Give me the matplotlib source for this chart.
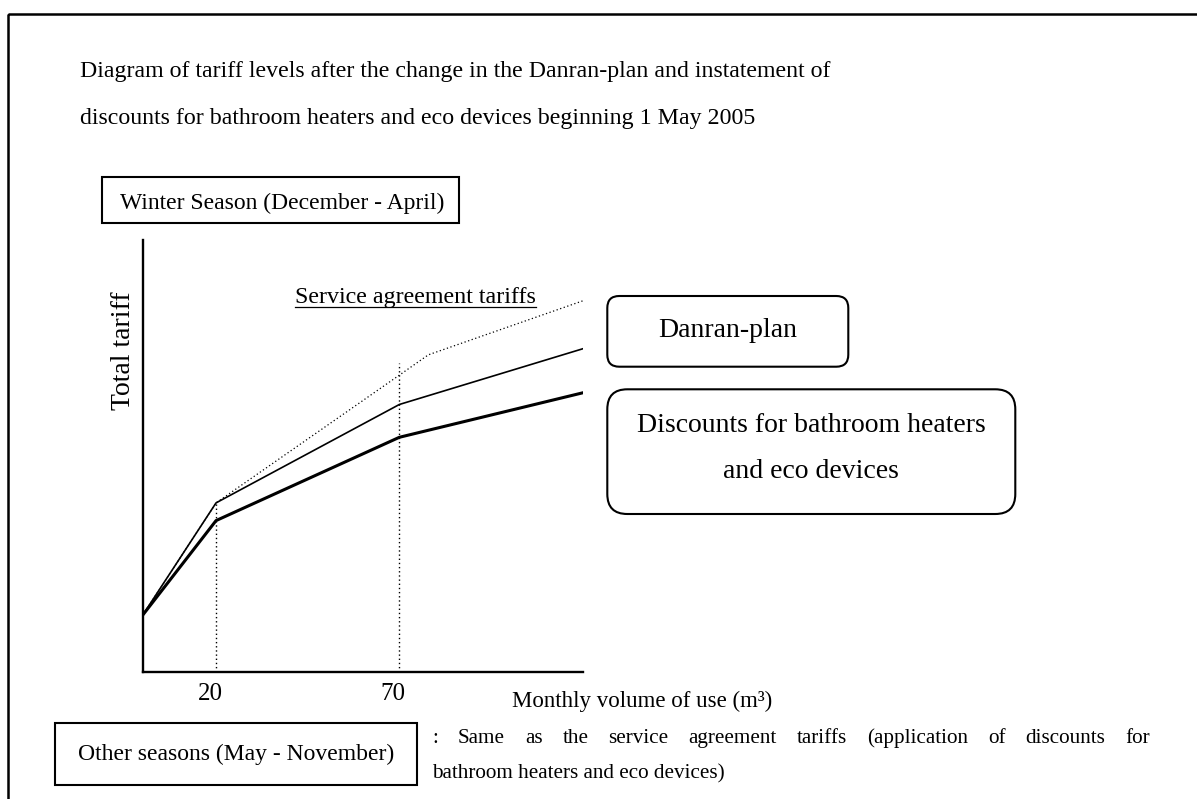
import matplotlib
matplotlib.use("Agg")
import matplotlib.pyplot as plt
from matplotlib.patches import FancyBboxPatch, Rectangle
from matplotlib.transforms import ScaledTranslation

# データ（図から読み取った概算値、縦軸は 0-100 の相対値）
volume = [0, 20, 70, 120]
danran = [13.1, 39.1, 61.9, 74.8]
discount = [13.1, 35.0, 54.3, 64.6]
service_x = [0, 20, 70, 77.9, 120]
service_y = [13.1, 39.1, 68.7, 73.4, 85.9]
guide_x = [20, 70]
guide_top = [39.1, 71.6]
tick_labels = ["20", "70"]

title_lines = [
    "Diagram of tariff levels after the change in the Danran-plan and instatement of",
    "discounts for bathroom heaters and eco devices beginning 1 May 2005",
]
note_line1 = ": Same as the service agreement tariffs (application of discounts for"
note_line2 = "bathroom heaters and eco devices)"

W, H = 1197, 799
plt.rcParams["font.family"] = ["Liberation Serif", "DejaVu Serif"]

fig = plt.figure(figsize=(W / 100, H / 100), dpi=100)
fig.patch.set_facecolor("white")

# ピクセル座標で描くための背景レイヤー
overlay = fig.add_axes([0, 0, 1, 1])
overlay.set_xlim(0, W)
overlay.set_ylim(H, 0)
overlay.axis("off")

# 外枠（右と下は画像外まで続く）
overlay.add_patch(Rectangle((8, 14), 1400, 1000, fill=False, lw=1.8, ec="black"))

# タイトル
overlay.text(80, 77, title_lines[0], fontsize=17.2, va="baseline")
overlay.text(80, 124, title_lines[1], fontsize=17.2, va="baseline")

# 冬季ボックス
overlay.add_patch(Rectangle((101.7, 177.3), 357, 46, fill=False, lw=1.5, ec="black"))
overlay.text(120, 209.3, "Winter Season (December - April)", fontsize=17, va="baseline")

# チャート本体
ax = fig.add_axes([142.7 / W, 1 - 671.7 / H, 440 / W, 431.7 / H])
ax.patch.set_alpha(0)
ax.set_xlim(0, 120)
ax.set_ylim(0, 100)
for side in ["top", "right"]:
    ax.spines[side].set_visible(False)
for side in ["left", "bottom"]:
    ax.spines[side].set_linewidth(1.7)
ax.set_yticks([])
ax.set_xticks(guide_x)
ax.set_xticklabels(tick_labels, fontsize=18)
ax.tick_params(axis="x", length=0, pad=8)
for label in ax.get_xticklabels():
    label.set_transform(label.get_transform() + ScaledTranslation(-0.06, 0, fig.dpi_scale_trans))

dot = (0, (1, 2))
for gx, gt in zip(guide_x, guide_top):
    ax.plot([gx, gx], [0, gt], color="black", lw=1.0, linestyle=dot)
ax.plot(service_x, service_y, color="black", lw=0.9, linestyle=dot)
ax.plot(volume, danran, color="black", lw=1.2, solid_joinstyle="miter")
ax.plot(volume, discount, color="black", lw=2.2, solid_joinstyle="miter")

# 軸ラベル
overlay.text(124, 351, "Total tariff", fontsize=20, rotation=90, ha="center", va="center")
overlay.text(511.7, 706.7, "Monthly volume of use (m³)", fontsize=16.5, va="baseline")

# 下線付きラベル
svc = overlay.text(295, 303.3, "Service agreement tariffs", fontsize=17.3, va="baseline")

# 凡例ボックス
overlay.add_patch(FancyBboxPatch((607.3, 296), 241, 70.7,
                                 boxstyle="round,pad=0,rounding_size=12",
                                 fill=False, lw=1.5, ec="black"))
overlay.text(727.8, 336.7, "Danran-plan", fontsize=20, ha="center", va="baseline")
overlay.add_patch(FancyBboxPatch((607.3, 389.3), 408, 124.7,
                                 boxstyle="round,pad=0,rounding_size=20",
                                 fill=False, lw=1.5, ec="black"))
overlay.text(811, 431.7, "Discounts for bathroom heaters", fontsize=20, ha="center", va="baseline")
overlay.text(811, 478, "and eco devices", fontsize=20, ha="center", va="baseline")

# その他の季節
overlay.add_patch(Rectangle((55, 723), 362, 62, fill=False, lw=1.5, ec="black"))
overlay.text(236, 760, "Other seasons (May - November)", fontsize=17, ha="center", va="baseline")

words = note_line1.split(" ")
word_texts = [overlay.text(0, 743, w, fontsize=15.2, va="baseline") for w in words]
overlay.text(432, 778, note_line2, fontsize=15.2, va="baseline")

fig.canvas.draw()
renderer = fig.canvas.get_renderer()

# 両端揃え
widths = [t.get_window_extent(renderer).width for t in word_texts]
x0, x1 = 432, 1150
gap = (x1 - x0 - sum(widths)) / (len(words) - 1)
x = x0
for t, w in zip(word_texts, widths):
    t.set_x(x)
    x += w + gap

bb = svc.get_window_extent(renderer)
overlay.plot([bb.x0, bb.x1], [306.5, 306.5], color="black", lw=0.9)

fig.savefig("out.png", dpi=100)
plt.close(fig)
